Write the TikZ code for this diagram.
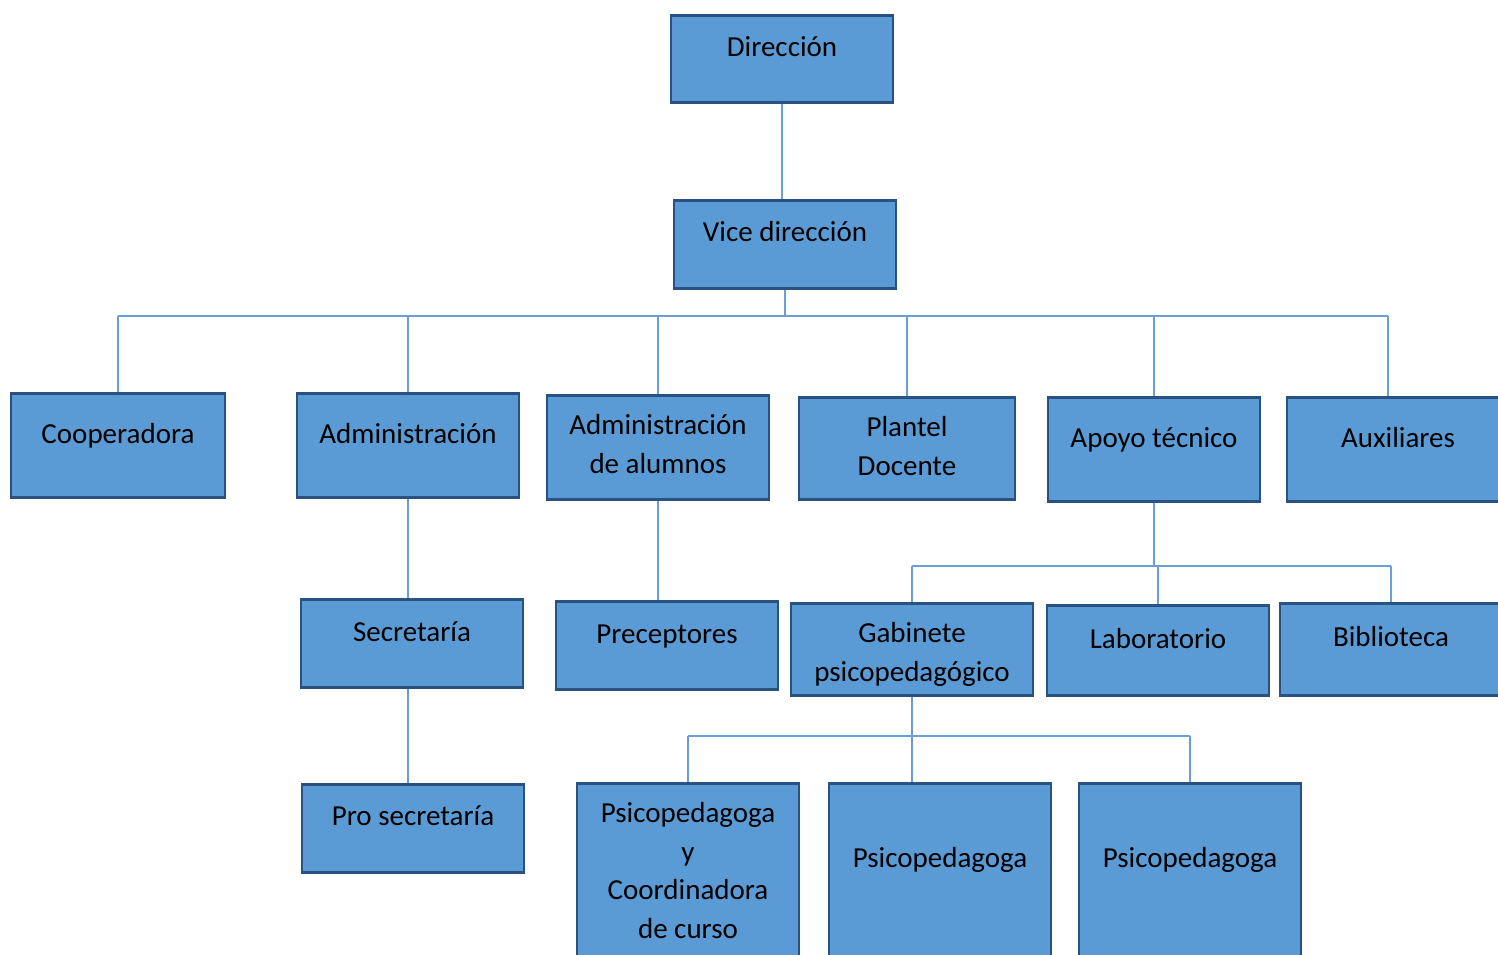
\documentclass[tikz,border=0pt]{standalone}
\usepackage{fontspec}
\setmainfont{Carlito}
\usetikzlibrary{positioning}
\definecolor{boxfill}{HTML}{5B9BD5}
\definecolor{boxline}{HTML}{2A5280}
\definecolor{linkline}{HTML}{6A9FD6}
\newcommand{\toplines}[1]{\begin{tabular}[t]{@{}c@{}}#1\end{tabular}}

\begin{document}
\begin{tikzpicture}[x=0.02cm, y=-0.02cm,
  unit/.style={draw=boxline, fill=boxfill, line width=1.6pt, anchor=north,
    inner xsep=0pt, inner ysep=0pt, minimum width=4.44cm,
    font=\fontsize{16.5}{22}\selectfont},
  link/.style={draw=linkline, line width=0.8pt}
]
\useasboundingbox (0,0) rectangle (1498,954);

% top
\node[unit, text height=0.82cm, text depth=0.92cm] (dir) at (782,14) {Dirección};
\node[unit, text height=0.82cm, text depth=0.94cm] (vice) at (785,199) {Vice dirección};

% first level
\node[unit, minimum width=4.28cm, text height=1.00cm, text depth=1.08cm] (coop) at (118,392) {Cooperadora};
\node[unit, text height=1.00cm, text depth=1.08cm] (admin) at (408,392) {Administración};
\node[unit, text height=0.78cm, text depth=1.30cm] (admal) at (658,394) {\toplines{Administración\\de alumnos}};
\node[unit, minimum width=4.32cm, text height=0.78cm, text depth=1.26cm] (plantel) at (907,396) {\toplines{Plantel\\Docente}};
\node[unit, minimum width=4.24cm, text height=1.00cm, text depth=1.08cm] (apoyo) at (1154,396) {Apoyo técnico};
\node[unit, text height=1.00cm, text depth=1.08cm] (aux) at (1398,396) {Auxiliares};

% second level
\node[unit, text height=0.84cm, text depth=0.92cm] (secr) at (412,598) {Secretaría};
\node[unit, text height=0.84cm, text depth=0.92cm] (prec) at (667,600) {Preceptores};
\node[unit, minimum width=4.84cm, text height=0.78cm, text depth=1.06cm] (gab) at (912,602) {\toplines{Gabinete\\psicopedagógico}};
\node[unit, text height=0.86cm, text depth=0.94cm] (lab) at (1158,604) {Laboratorio};
\node[unit, text height=0.86cm, text depth=0.98cm] (bib) at (1391,602) {Biblioteca};

% third level
\node[unit, text height=0.82cm, text depth=0.94cm] (prosec) at (413,783) {Pro secretaría};
\node[unit, text height=0.78cm, text depth=2.78cm] (psi1) at (688,782) {\toplines{Psicopedagoga\\y\\Coordinadora\\de curso}};
\node[unit, text height=1.68cm, text depth=1.88cm] (psi2) at (940,782) {Psicopedagoga};
\node[unit, text height=1.68cm, text depth=1.88cm] (psi3) at (1190,782) {Psicopedagoga};

% connectors
\coordinate (busA) at (0,316);
\coordinate (busB) at (0,566);
\coordinate (busC) at (0,736);
\coordinate (auxtop) at ([xshift=-0.2cm]aux.north);

\draw[link] (dir.south) -- (dir.south |- vice.north);
\draw[link] (vice.south) -- (vice.south |- busA);
\draw[link] (coop.north |- busA) -- (auxtop |- busA);
\foreach \n in {coop,admin,admal,plantel,apoyo}
  \draw[link] (\n.north) -- (\n.north |- busA);
\draw[link] (auxtop) -- (auxtop |- busA);

\draw[link] (admin.south) -- (admin.south |- secr.north);
\draw[link] (admin.south |- secr.south) -- (admin.south |- prosec.north);
\draw[link] (admal.south) -- (admal.south |- prec.north);

\draw[link] (apoyo.south) -- (apoyo.south |- busB);
\draw[link] (gab.north |- busB) -- (bib.north |- busB);
\foreach \n in {gab,lab,bib}
  \draw[link] (\n.north) -- (\n.north |- busB);

\draw[link] (gab.south) -- (gab.south |- psi2.north);
\draw[link] (psi1.north |- busC) -- (psi3.north |- busC);
\foreach \n in {psi1,psi3}
  \draw[link] (\n.north) -- (\n.north |- busC);
\end{tikzpicture}
\end{document}
